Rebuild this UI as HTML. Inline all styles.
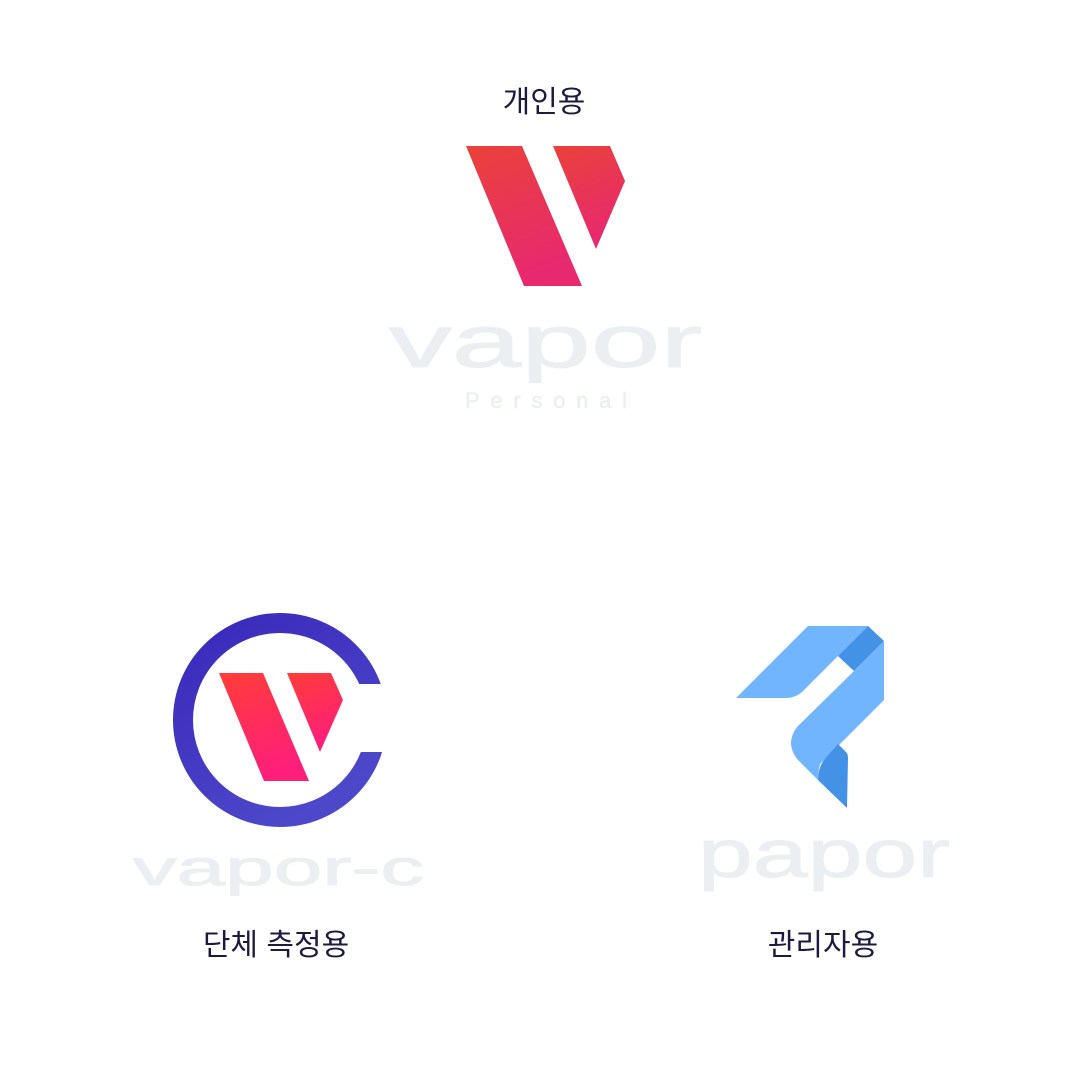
<!DOCTYPE html>
<html><head><meta charset="utf-8"><style>
html,body{margin:0;padding:0;background:#fff;}
svg{display:block}
</style></head><body>
<svg width="1080" height="1080" viewBox="0 0 1080 1080" xmlns="http://www.w3.org/2000/svg">
<defs>
<linearGradient id="g1" x1="0" y1="0" x2="0.3" y2="1">
<stop offset="0" stop-color="#e9423a"/><stop offset="1" stop-color="#e8296f"/></linearGradient>
<linearGradient id="g2" x1="0" y1="0" x2="0.3" y2="1">
<stop offset="0" stop-color="#ff3d38"/><stop offset="1" stop-color="#ff1f7a"/></linearGradient>
<linearGradient id="g3" x1="0" y1="0" x2="0.6" y2="1">
<stop offset="0" stop-color="#3a28bb"/><stop offset="1" stop-color="#4d48c9"/></linearGradient>
</defs>
<g font-family="'Liberation Sans','Noto Sans CJK KR',sans-serif" fill="#1d1a3f" font-size="30" text-anchor="middle">
<text x="544" y="112">개인용</text>
<text x="276" y="955">단체 측정용</text>
<text x="823" y="955">관리자용</text>
</g>
<polygon points="466,146 522,146 582,286 524,286" fill="url(#g1)"/>
<polygon points="553,146 610,146 625,181 596,249" fill="url(#g1)"/>
<circle cx="280" cy="720" r="97" fill="none" stroke="url(#g3)" stroke-width="20"/>
<rect x="340" y="684" width="60" height="68" fill="#fff"/>
<polygon points="219,673 263,673 309,781 264,781" fill="url(#g2)"/>
<polygon points="287,673 331,673 343,700 320,752" fill="url(#g2)"/>
<path d="M736,698 L808,626 L868,626 L838,656 L803,691 Q796,698 785,698 Z" fill="#70b5fd"/>
<polygon points="838,656 868,626 884,641 854,671" fill="#4392e6"/>
<path d="M884,641 L884,700 L840,744 L820,764 Q818,772 818,780 L797,759 Q785,743 797,727 L854,671 Z" fill="#70b5fd"/>
<path d="M838,744 L846,752 Q848,754 848,758 L847,808 L818,780 Q818,768 824,760 Z" fill="#4392e6"/>
<g fill="#eceff2" stroke="#eceff2" font-family="'Liberation Sans',sans-serif">
<text x="389" y="367" font-size="74" stroke-width="1" textLength="313" lengthAdjust="spacingAndGlyphs">vapor</text>
<text x="465" y="408" font-size="22" stroke-width="0.5" textLength="162" lengthAdjust="spacing">Personal</text>
<text x="133" y="885" font-size="50" stroke-width="1" textLength="291" lengthAdjust="spacingAndGlyphs">vapor-c</text>
<text x="698" y="877" font-size="68" stroke-width="1" textLength="252" lengthAdjust="spacingAndGlyphs">papor</text>
</g>
</svg>
</body></html>
